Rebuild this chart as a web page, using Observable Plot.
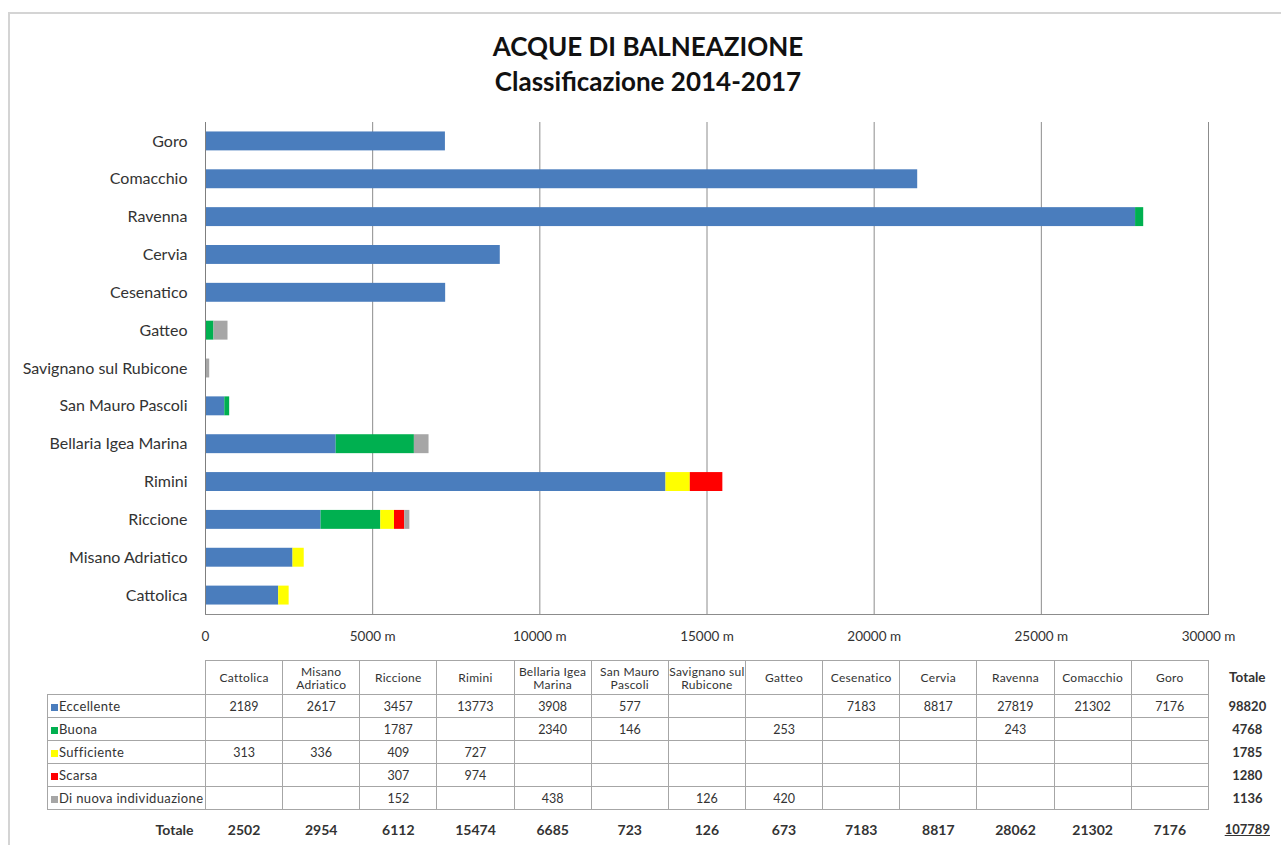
<!DOCTYPE html>
<html><head><meta charset="utf-8">
<script src="https://cdn.jsdelivr.net/npm/d3@7"></script>
<script src="https://cdn.jsdelivr.net/npm/@observablehq/plot@0.6"></script>
<style>
body{margin:0;background:#fff;font-family:Lato,"Open Sans",sans-serif;}
#page{position:relative;width:1281px;height:845px;overflow:hidden;background:#fff;}
#frame{position:absolute;left:8px;top:12px;width:1300px;height:860px;border:2px solid #d4d4d4;}
#title{position:absolute;left:0;top:29px;width:1296px;text-align:center;font-weight:bold;font-size:26px;line-height:35px;color:#111;}
#chart{position:absolute;left:0;top:110px;}
#tbl{position:absolute;left:47px;top:660px;width:1239px;border-collapse:collapse;table-layout:fixed;color:#333;}
#tbl td{border:1px solid #a6a6a6;padding:0;text-align:center;font-size:12.5px;height:22px;overflow:hidden;}
#tbl tr.head td{height:33px;font-size:12px;letter-spacing:0.3px;line-height:13px;white-space:nowrap;}
#tbl td.nb{border:none;}
#tbl td.lab{text-align:left;padding-left:3px;font-size:13px;letter-spacing:0.35px;white-space:nowrap;}
#tbl td.tot{border:none;font-weight:bold;font-size:13px;text-align:center;}
#tbl tr.totrow td{border:none;font-weight:bold;font-size:14px;height:38px;}
.sw{display:inline-block;width:7px;height:7px;margin-right:1px;vertical-align:0px;}
</style></head>
<body><div id="page"><div id="frame"></div>
<div id="title">ACQUE DI BALNEAZIONE<br>Classificazione 2014-2017</div>
<div id="chart"></div>
<table id="tbl"></table>
</div>
<script>
const cities = ["Cattolica","Misano Adriatico","Riccione","Rimini","Bellaria Igea Marina","San Mauro Pascoli","Savignano sul Rubicone","Gatteo","Cesenatico","Cervia","Ravenna","Comacchio","Goro"];
const headerLabels = ["Cattolica","Misano<br>Adriatico","Riccione","Rimini","Bellaria Igea<br>Marina","San Mauro<br>Pascoli","Savignano sul<br>Rubicone","Gatteo","Cesenatico","Cervia","Ravenna","Comacchio","Goro"];
const categories = ["Eccellente","Buona","Sufficiente","Scarsa","Di nuova individuazione"];
const colors = ["#4a7dbd","#00b050","#ffff00","#ff0000","#a6a6a6"];
const eccellente  = [2189,2617,3457,13773,3908,577,null,null,7183,8817,27819,21302,7176];
const buona       = [null,null,1787,null,2340,146,null,253,null,null,243,null,null];
const sufficiente = [313,336,409,727,null,null,null,null,null,null,null,null,null];
const scarsa      = [null,null,307,974,null,null,null,null,null,null,null,null,null];
const diNuova     = [null,null,152,null,438,null,126,420,null,null,null,null,null];
const rowTotals = [98820,4768,1785,1280,1136];
const colTotals = [2502,2954,6112,15474,6685,723,126,673,7183,8817,28062,21302,7176];
const grandTotal = 107789;
const xTicks = [0,5000,10000,15000,20000,25000,30000];

const series = [eccellente,buona,sufficiente,scarsa,diNuova];
const data = [];
series.forEach((vals,i)=>vals.forEach((v,j)=>{ if (v!=null) data.push({city:cities[j],cat:categories[i],value:v}); }));

const chart = Plot.plot({
  width:1281, height:540, marginLeft:205, marginRight:73, marginTop:12, marginBottom:36,
  style:{fontFamily:"Lato, 'Open Sans', sans-serif", fontSize:"13px", color:"#333", background:"transparent"},
  x:{domain:[0,30000], label:null},
  y:{domain:cities.slice().reverse(), paddingInner:0.5, paddingOuter:0.25, round:false, label:null},
  color:{domain:categories, range:colors},
  marks:[
    Plot.gridX(xTicks.slice(1), {stroke:"#8c8c8c", strokeOpacity:1}),
    Plot.barX(data, Plot.stackX({y:"city", x:"value", fill:"cat", order:categories})),
    Plot.ruleX([0], {stroke:"#7f7f7f"}),
    Plot.frame({anchor:"bottom", stroke:"#8c8c8c"}),
    Plot.axisX(xTicks, {tickSize:0, tickPadding:17, fontSize:13.5, tickFormat:d=> d===0 ? "0" : d+" m"}),
    Plot.axisY({tickSize:0, tickPadding:18, fontSize:16})
  ]
});
document.getElementById("chart").appendChild(chart);

const tbl = d3.select("#tbl");
const cg = tbl.append("colgroup");
cg.append("col").style("width","158px");
cities.forEach(()=>cg.append("col").style("width","77.15px"));
cg.append("col").style("width","78px");
const hr = tbl.append("tr").attr("class","head");
hr.append("td").attr("class","nb");
headerLabels.forEach(h=>hr.append("td").html(h));
hr.append("td").attr("class","tot").style("font-size","13.5px").style("letter-spacing","0").text("Totale");
series.forEach((vals,i)=>{
  const tr = tbl.append("tr");
  const lab = tr.append("td").attr("class","lab");
  lab.append("span").attr("class","sw").style("background",colors[i]);
  lab.append("span").text(categories[i]);
  vals.forEach(v=>tr.append("td").text(v==null?"":v));
  tr.append("td").attr("class","tot").text(rowTotals[i]);
});
const trt = tbl.append("tr").attr("class","totrow");
trt.append("td").style("text-align","right").style("padding-right","12px").text("Totale");
colTotals.forEach(v=>trt.append("td").text(v));
trt.append("td").append("span").style("text-decoration","underline").style("font-size","13px").text(grandTotal);
</script>
</body></html>
